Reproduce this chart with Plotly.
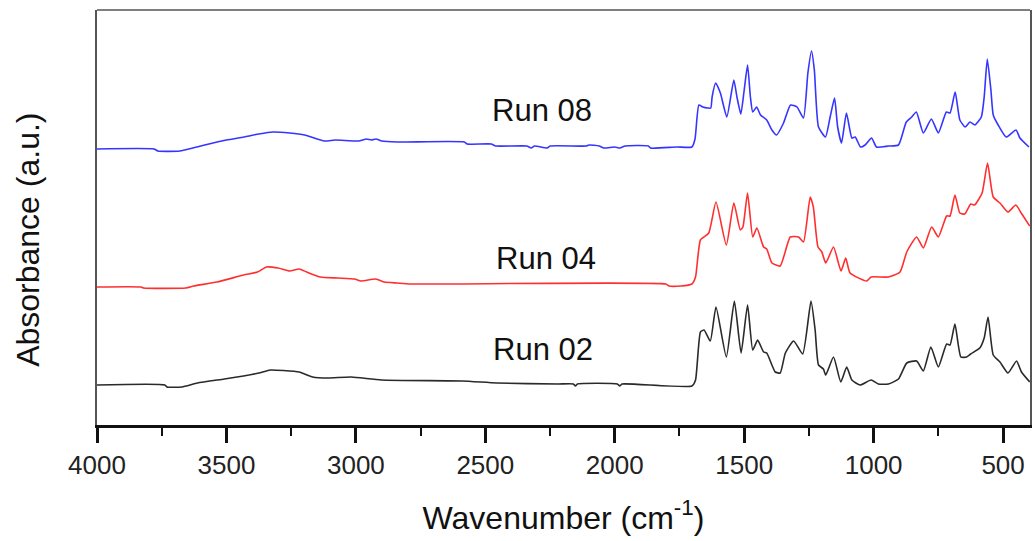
import plotly.graph_objects as go

# ---------------- data ----------------
wn_run08 = [4000, 3780, 3765, 3680, 3630, 3584, 3500, 3433, 3375, 3321, 3256, 3198, 3122, 3079,
            2990, 2959, 2940, 2922, 2900, 2840, 2581, 2570, 2477, 2460, 2340, 2323, 2310, 2261,
            2250, 2110, 2100, 2060, 2042, 2000, 1980, 1960, 1870, 1862, 1760, 1702,
            1690, 1675, 1660, 1640, 1629, 1624, 1610, 1592, 1567, 1540, 1528, 1513, 1500, 1487,
            1476, 1467, 1452, 1437, 1413, 1393, 1375, 1348, 1321, 1296, 1271, 1254, 1240, 1229,
            1213, 1186, 1168, 1151, 1139, 1124, 1105, 1084, 1071, 1051, 1033, 1008, 989, 943,
            904, 874, 853, 835, 808, 777, 750, 719, 705, 685, 667, 646, 628, 609, 584, 573,
            561, 547, 538, 519, 488, 450, 435, 400]
abs_run08 = [2.76, 2.76, 2.74, 2.74, 2.77, 2.80, 2.85, 2.88, 2.91, 2.93, 2.92, 2.90, 2.84, 2.85,
             2.84, 2.86, 2.85, 2.86, 2.84, 2.83, 2.83, 2.81, 2.81, 2.79, 2.79, 2.77, 2.79, 2.77,
             2.79, 2.79, 2.80, 2.79, 2.77, 2.78, 2.77, 2.79, 2.79, 2.77, 2.78, 2.78,
             2.86, 3.20, 3.18, 3.17, 3.17, 3.28, 3.42, 3.32, 3.08, 3.45, 3.28, 3.11, 3.35, 3.60,
             3.28, 3.13, 3.18, 3.10, 3.05, 2.95, 2.90, 3.02, 3.20, 3.18, 3.07, 3.52, 3.74, 3.55,
             2.98, 2.88, 3.08, 3.27, 2.98, 2.82, 3.12, 2.87, 2.88, 2.78, 2.80, 2.87, 2.78, 2.79,
             2.80, 3.03, 3.08, 3.13, 2.92, 3.06, 2.92, 3.13, 3.12, 3.33, 3.05, 2.98, 3.03, 3.00,
             3.08, 3.28, 3.66, 3.35, 3.10, 3.00, 2.88, 2.95, 2.87, 2.78]

wn_run04 = [4000, 3830, 3820, 3657, 3626, 3537, 3433, 3380, 3345, 3300, 3256, 3219, 3190, 3137,
            3070, 3005, 2980, 2923, 2890, 2841, 2789, 1803, 1790, 1745, 1702,
            1688, 1669, 1637, 1609, 1569, 1540, 1515, 1505, 1487, 1467, 1451, 1425, 1413, 1393,
            1361, 1322, 1290, 1271, 1245, 1233, 1215, 1200, 1185, 1155, 1126, 1108, 1091, 1027,
            1010, 943, 898, 872, 834, 808, 776, 750, 718, 705, 686, 667, 648, 625, 610, 581,
            560, 538, 512, 481, 451, 430, 397]
abs_run04 = [1.38, 1.38, 1.37, 1.37, 1.39, 1.43, 1.50, 1.53, 1.58, 1.57, 1.54, 1.56, 1.53, 1.48,
             1.47, 1.46, 1.44, 1.46, 1.43, 1.42, 1.41, 1.41, 1.39, 1.39, 1.41,
             1.48, 1.85, 1.92, 2.23, 1.80, 2.22, 1.95, 1.98, 2.32, 1.88, 1.97, 1.78, 1.76, 1.62,
             1.59, 1.88, 1.88, 1.83, 2.28, 2.18, 1.78, 1.73, 1.62, 1.78, 1.54, 1.67, 1.52, 1.44,
             1.48, 1.48, 1.53, 1.73, 1.88, 1.77, 1.98, 1.88, 2.09, 2.09, 2.30, 2.12, 2.11, 2.21,
             2.20, 2.32, 2.62, 2.28, 2.22, 2.13, 2.20, 2.12, 1.99]

wn_run02 = [4000, 3738, 3730, 3672, 3612, 3508, 3434, 3375, 3330, 3280, 3219, 3167, 3108, 3019,
            2901, 2589, 2455, 2219, 2160, 2152, 2144, 1990, 1981, 1972, 1702,
            1688, 1669, 1655, 1631, 1609, 1569, 1538, 1512, 1487, 1467, 1448, 1425, 1413, 1380,
            1361, 1341, 1309, 1274, 1242, 1226, 1213, 1194, 1185, 1155, 1127, 1104, 1084, 1052,
            1010, 982, 943, 904, 872, 834, 808, 779, 750, 718, 705, 686, 663, 641, 625, 590,
            573, 558, 538, 512, 481, 448, 429, 397]
abs_run02 = [0.40, 0.40, 0.38, 0.38, 0.42, 0.46, 0.49, 0.52, 0.55, 0.545, 0.53, 0.48, 0.47, 0.48,
             0.45, 0.44, 0.42, 0.41, 0.41, 0.39, 0.41, 0.41, 0.39, 0.41, 0.39,
             0.45, 0.93, 0.95, 0.84, 1.18, 0.68, 1.24, 0.72, 1.20, 0.75, 0.85, 0.73, 0.72, 0.53,
             0.52, 0.72, 0.84, 0.71, 1.24, 0.95, 0.60, 0.56, 0.50, 0.68, 0.43, 0.58, 0.45, 0.40,
             0.45, 0.41, 0.41, 0.46, 0.62, 0.64, 0.54, 0.78, 0.58, 0.81, 0.80, 1.01, 0.68, 0.68,
             0.71, 0.77, 0.87, 1.08, 0.70, 0.63, 0.52, 0.64, 0.53, 0.43]

label_text = ["Run 08", "Run 04", "Run 02"]
label_wn = [2281, 2265, 2277]
label_abs = [3.15, 1.67, 0.76]

tick_vals = [4000, 3500, 3000, 2500, 2000, 1500, 1000, 500]

# ---------------- figure ----------------
FONT = "Arial, Liberation Sans, sans-serif"
series = [
    ("Run 02", wn_run02, abs_run02, "#2a2a2a"),
    ("Run 04", wn_run04, abs_run04, "#ff2f2f"),
    ("Run 08", wn_run08, abs_run08, "#3535ff"),
]

fig = go.Figure()
for name, xs, ys, col in series:
    fig.add_trace(go.Scatter(x=xs, y=ys, mode="lines", name=name,
                             line=dict(color=col, width=1.6, shape="spline", smoothing=0.5),
                             showlegend=False))

for t, xv, yv in zip(label_text, label_wn, label_abs):
    fig.add_annotation(x=xv, y=yv, xref="x", yref="y", text=t, showarrow=False,
                       font=dict(family=FONT, size=31, color="#111"))

# y-axis title (placed as an annotation so that it sits where the reference has it)
fig.add_annotation(x=-0.074, y=0.446, xref="paper", yref="paper", text="Absorbance (a.u.)",
                   textangle=-90, showarrow=False, xanchor="center", yanchor="middle",
                   font=dict(family=FONT, size=32, color="#111"))

fig.update_layout(
    width=1035, height=541,
    margin=dict(l=97, r=3, t=10, b=116),
    paper_bgcolor="white", plot_bgcolor="white",
    font=dict(family=FONT, color="#222"),
)
fig.update_xaxes(
    range=[4000, 396], showgrid=False, zeroline=False,
    showline=True, linecolor="#111", linewidth=2.5, mirror=False,
    ticks="outside", ticklen=15, tickwidth=2.5, tickcolor="#111",
    tickvals=tick_vals, tickfont=dict(family=FONT, size=26, color="#222"),
    minor=dict(ticks="outside", ticklen=8, tickwidth=2, tickcolor="#111", dtick=250, tick0=0),
    title=dict(text="Wavenumber (cm<sup>-1</sup>)", standoff=28,
               font=dict(family=FONT, size=32, color="#111")),
)
fig.update_yaxes(
    range=[0, 4.15], showgrid=False, zeroline=False, showticklabels=False, ticks="",
    showline=True, linecolor="#555", linewidth=1.5, mirror=True,
)
# top frame line
fig.add_shape(type="line", xref="paper", yref="paper", x0=0, x1=1, y0=1, y1=1,
              line=dict(color="#555", width=1.5))

fig.write_html("out.html")
